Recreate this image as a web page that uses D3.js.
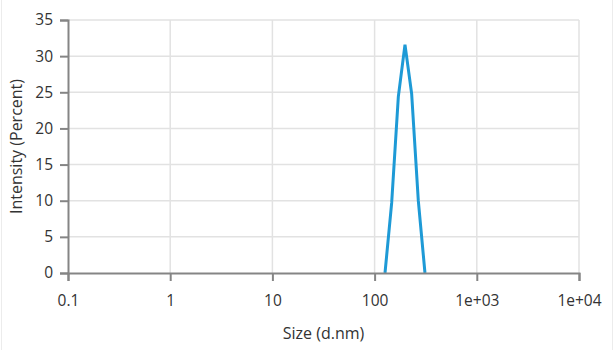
<!DOCTYPE html>
<html>
<head>
<meta charset="utf-8">
<script src="https://cdn.jsdelivr.net/npm/d3@7"></script>
<style>
  body { margin: 0; background: #fff; }
  text { font-family: "Open Sans", "Noto Sans", sans-serif; fill: #333; }
</style>
</head>
<body>
<div id="chart"></div>
<script>
//chart data
const sizes = [126.4, 146.9, 170.7, 198.3, 230.4, 267.7, 311.1];
const intensity = [0, 9.7, 24.4, 31.6, 24.8, 10.0, 0];
const xTicks = [0.1, 1, 10, 100, 1000, 10000];
const xTickLabels = ["0.1", "1", "10", "100", "1e+03", "1e+04"];
const yTicks = [0, 5, 10, 15, 20, 25, 30, 35];

//setting visual dimensions
const width = 615;
const height = 350;
const margin = { top: 20, right: 36, bottom: 77, left: 68 };

const svg = d3.select("#chart")
  .append("svg")
  .attr("width", width)
  .attr("height", height);

//faint frame at the sides
svg.append("line").attr("x1", 1.5).attr("x2", 1.5).attr("y1", 0).attr("y2", height)
  .attr("stroke", "#ececec");
svg.append("line").attr("x1", 612.5).attr("x2", 612.5).attr("y1", 0).attr("y2", height)
  .attr("stroke", "#ececec");

const x = d3.scaleLog()
  .domain([0.1, 10000])
  .range([margin.left, width - margin.right]);

const y = d3.scaleLinear()
  .domain([0, 35])
  .range([height - margin.bottom, margin.top]);

//grid lines
svg.append("g")
  .selectAll("line")
  .data(yTicks.slice(1))
  .join("line")
  .attr("x1", x(0.1))
  .attr("x2", x(10000))
  .attr("y1", d => y(d))
  .attr("y2", d => y(d))
  .attr("stroke", "#e2e2e2")
  .attr("stroke-width", 1.5);

svg.append("g")
  .selectAll("line")
  .data(xTicks.slice(1))
  .join("line")
  .attr("x1", d => x(d))
  .attr("x2", d => x(d))
  .attr("y1", y(0))
  .attr("y2", y(35))
  .attr("stroke", "#e2e2e2")
  .attr("stroke-width", 1.5);

//distribution line
const line = d3.line()
  .x((d, i) => x(sizes[i]))
  .y(d => y(d));

svg.append("path")
  .datum(intensity)
  .attr("d", line)
  .attr("fill", "none")
  .attr("stroke", "#1e9ad6")
  .attr("stroke-width", 3)
  .attr("stroke-linejoin", "miter");

//axes
const xAxis = svg.append("g")
  .attr("transform", `translate(0,${y(0)})`)
  .call(d3.axisBottom(x)
    .tickValues(xTicks)
    .tickFormat((d, i) => xTickLabels[i])
    .tickSizeOuter(0)
    .tickSize(8)
    .tickPadding(14));

const yAxis = svg.append("g")
  .attr("transform", `translate(${x(0.1)},0)`)
  .call(d3.axisLeft(y)
    .tickValues(yTicks)
    .tickSizeOuter(0)
    .tickSize(8)
    .tickPadding(7));

[xAxis, yAxis].forEach(g => {
  g.select(".domain").attr("stroke", "#858585").attr("stroke-width", 2);
  g.selectAll(".tick line").attr("stroke", "#858585").attr("stroke-width", 2);
  g.selectAll(".tick text")
    .style("font-family", "'Open Sans', 'Noto Sans', sans-serif")
    .style("font-size", "15.5px")
    .attr("fill", "#333");
});

//axis titles
svg.append("text")
  .attr("x", (x(0.1) + x(10000)) / 2)
  .attr("y", 333)
  .attr("dy", "0.35em")
  .attr("text-anchor", "middle")
  .style("font-size", "16px")
  .text("Size (d.nm)");

svg.append("text")
  .attr("transform", `translate(16,${(y(0) + y(35)) / 2}) rotate(-90)`)
  .attr("dy", "0.35em")
  .attr("text-anchor", "middle")
  .style("font-size", "16px")
  .text("Intensity (Percent)");
</script>
</body>
</html>
